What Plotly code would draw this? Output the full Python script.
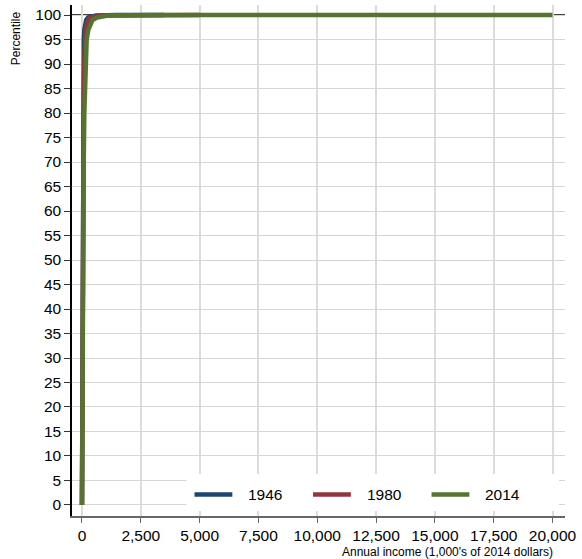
import plotly.graph_objects as go

# Percentile of the income distribution and the matching annual income
# (thousands of 2014 dollars) for each year.
percentiles = [0, 10, 20, 30, 40, 50, 60, 70, 80, 90, 95, 97, 99, 99.5, 99.9, 99.99, 100]
income_1946 = [0, 4, 9, 15, 20, 26, 32, 38, 46, 60, 80, 100, 180, 260, 600, 1500, 3500]
income_1980 = [0, 5, 12, 20, 28, 37, 46, 57, 70, 95, 120, 150, 260, 380, 900, 2500, 5000]
income_2014 = [0, 4, 11, 20, 30, 42, 56, 74, 100, 150, 200, 270, 450, 650, 1100, 3000, 20000]

series_names = ["1946", "1980", "2014"]
series_colors = ["#1a476f", "#90353b", "#55752f"]
series_income = [income_1946, income_1980, income_2014]

x_ticks = [0, 2500, 5000, 7500, 10000, 12500, 15000, 17500, 20000]
y_ticks = list(range(0, 101, 5))
top_percentile = 100

FONT = "Liberation Sans, Arial, Helvetica, sans-serif"

# plot-area geometry in pixels
W, H = 582, 559
L, R, T, B = 72, 15, 5, 43
PW, PH = W - L - R, H - T - B


def px_x(p):
    return (p - L) / PW


def px_y(p):
    return (H - B - p) / PH


fig = go.Figure()
for name, color, inc in zip(series_names, series_colors, series_income):
    fig.add_trace(go.Scatter(
        x=inc, y=percentiles, mode="lines", name=name,
        line=dict(color=color, width=4.5),
    ))

shapes = [
    # reference line at the 100th percentile, across the whole plot width
    dict(type="line", xref="paper", yref="y", x0=0, x1=1,
         y0=top_percentile, y1=top_percentile,
         line=dict(color="black", width=1.5), layer="below"),
    # legend box drawn inside the plot, keys laid out in a single row
    dict(type="rect", xref="paper", yref="paper",
         x0=px_x(187), x1=px_x(561), y0=px_y(511), y1=px_y(474),
         fillcolor="white", line=dict(width=0), layer="above"),
]
annotations = []
key_left = [195, 314, 433]
for name, color, kx in zip(series_names, series_colors, key_left):
    shapes.append(dict(type="line", xref="paper", yref="paper",
                       x0=px_x(kx), x1=px_x(kx + 38), y0=px_y(494.5), y1=px_y(494.5),
                       line=dict(color=color, width=4.5), layer="above"))
    annotations.append(dict(text=name, xref="paper", yref="paper",
                            x=px_x(kx + 52), y=px_y(494.5), showarrow=False,
                            xanchor="left", yanchor="middle",
                            font=dict(size=15.5, family=FONT)))

annotations += [
    dict(text="Percentile", xref="paper", yref="paper",
         x=px_x(16), y=px_y(38), textangle=-90,
         showarrow=False, font=dict(size=12, family=FONT),
         xanchor="center", yanchor="middle"),
    dict(text="Annual income (1,000's of 2014 dollars)", xref="paper", yref="paper",
         x=px_x(557), y=px_y(552), showarrow=False,
         font=dict(size=12, family=FONT), xanchor="right", yanchor="middle"),
]

fig.update_layout(
    width=W, height=H,
    margin=dict(l=L, r=R, t=T, b=B),
    paper_bgcolor="white", plot_bgcolor="white",
    font=dict(family=FONT, color="black", size=15),
    showlegend=False,
    xaxis=dict(
        range=[-424, 20530], tickvals=x_ticks,
        ticktext=[f"{v:,}" for v in x_ticks],
        showgrid=True, gridcolor="#dcdcdc", gridwidth=1.5,
        zeroline=False, showline=True, linecolor="#666666", linewidth=1.5,
        ticks="outside", ticklen=5, tickcolor="#666666", tickwidth=1.2,
        tickfont=dict(size=15.5),
    ),
    yaxis=dict(
        range=[-2.25, 102.05], tickvals=y_ticks,
        showgrid=True, gridcolor="#d6d6d6", gridwidth=1.2,
        zeroline=False, showline=True, linecolor="black", linewidth=1.5,
        ticks="outside", ticklen=6, tickcolor="#333333", tickwidth=1.2,
        tickfont=dict(size=15.5),
    ),
    shapes=shapes,
    annotations=annotations,
)

fig.write_html("out.html")
